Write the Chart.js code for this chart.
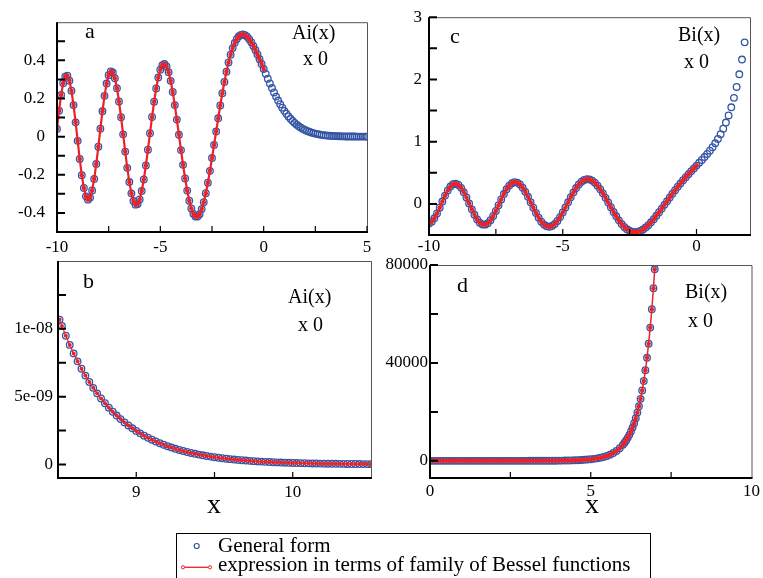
<!DOCTYPE html>
<html>
<head>
<meta charset="utf-8">
<script src="https://cdn.jsdelivr.net/npm/chart.js"></script>
<style>
  body { margin: 0; background: #fff; }
  #wrap { position: relative; width: 763px; height: 578px; overflow: hidden; font-family: "Liberation Serif", "Times New Roman", serif; }
  canvas { position: absolute; left: 0; top: 0; }
  .t { position: absolute; color: #000; white-space: nowrap; line-height: 1; font-size: 21px; }
  #legend { position: absolute; left: 176px; top: 533px; width: 475px; height: 60px; border: 1px solid #000; box-sizing: border-box; }
  svg { position: absolute; left: 0; top: 0; }
</style>
</head>
<body>
<div id="wrap">
  <canvas id="pa" width="763" height="578"></canvas>
  <canvas id="pc" width="763" height="578"></canvas>
  <canvas id="pb" width="763" height="578"></canvas>
  <canvas id="pd" width="763" height="578"></canvas>
  <div id="legend"></div>
  <svg width="763" height="578">
    <circle cx="196.7" cy="546" r="2.5" fill="none" stroke="#3555a5" stroke-width="1.2"/>
    <line x1="183" y1="567.3" x2="210" y2="567.3" stroke="#ec2227" stroke-width="1.3"/>
    <circle cx="183" cy="567.3" r="1.6" fill="#fff" stroke="#ec2227" stroke-width="1"/>
    <circle cx="210" cy="567.3" r="1.6" fill="#fff" stroke="#ec2227" stroke-width="1"/>
  </svg>
  <div class="t" style="left:218px;top:535px;">General form</div>
  <div class="t" style="left:218px;top:554px;">expression in terms of family of Bessel functions</div>
</div>
<script>
// panel a : Ai(x), -10..5
const xAi = [-10,-9.9,-9.8,-9.7,-9.6,-9.5,-9.4,-9.3,-9.2,-9.1,-9,-8.9,-8.8,-8.7,-8.6,-8.5,-8.4,-8.3,-8.2,-8.1,
  -8,-7.9,-7.8,-7.7,-7.6,-7.5,-7.4,-7.3,-7.2,-7.1,-7,-6.9,-6.8,-6.7,-6.6,-6.5,-6.4,-6.3,-6.2,-6.1,
  -6,-5.9,-5.8,-5.7,-5.6,-5.5,-5.4,-5.3,-5.2,-5.1,-5,-4.9,-4.8,-4.7,-4.6,-4.5,-4.4,-4.3,-4.2,-4.1,
  -4,-3.9,-3.8,-3.7,-3.6,-3.5,-3.4,-3.3,-3.2,-3.1,-3,-2.9,-2.8,-2.7,-2.6,-2.5,-2.4,-2.3,-2.2,-2.1,
  -2,-1.9,-1.8,-1.7,-1.6,-1.5,-1.4,-1.3,-1.2,-1.1,-1,-0.9,-0.8,-0.7,-0.6,-0.5,-0.4,-0.3,-0.2,-0.1,
  0,0.1,0.2,0.3,0.4,0.5,0.6,0.7,0.8,0.9,1,1.1,1.2,1.3,1.4,1.5,1.6,1.7,1.8,1.9,
  2,2.1,2.2,2.3,2.4,2.5,2.6,2.7,2.8,2.9,3,3.1,3.2,3.3,3.4,3.5,3.6,3.7,3.8,3.9,
  4,4.1,4.2,4.3,4.4,4.5,4.6,4.7,4.8,4.9,5];
const aiVals = [0.0402,0.1363,0.2189,0.2803,0.3147,0.3192,0.2935,0.2405,0.1653,0.0750,
  -0.0221,-0.1173,-0.2021,-0.2693,-0.3132,-0.3304,-0.3197,-0.2823,-0.2217,-0.1429,
  -0.0527,0.0417,0.1329,0.2138,0.2784,0.3219,0.3415,0.3359,0.3060,0.2541,
  0.1844,0.1017,0.0121,-0.0784,-0.1636,-0.2382,-0.2973,-0.3376,-0.3567,-0.3538,
  -0.3294,-0.2853,-0.2245,-0.1507,-0.0684,0.0178,0.1031,0.1828,0.2529,0.3099,
  0.3512,0.3750,0.3806,0.3679,0.3380,0.2926,0.2341,0.1653,0.0893,0.0096,
  -0.0705,-0.1479,-0.2196,-0.2829,-0.3359,-0.3769,-0.4048,-0.4189,-0.4193,-0.4063,
  -0.3800,-0.3438,-0.2968,-0.2414,-0.1795,-0.1123,-0.0433,0.0267,0.0961,0.1635,
  0.2274,0.2868,0.3408,0.3886,0.4299,0.4643,0.4917,0.5123,0.5262,0.5338,
  0.5356,0.5320,0.5236,0.5110,0.4948,0.4757,0.4542,0.4309,0.4063,0.3808,
  0.3550,0.3292,0.3037,0.2788,0.2547,0.2317,0.2098,0.1892,0.1698,0.1519,
  0.1353,0.1201,0.1061,0.0935,0.0820,0.0717,0.0625,0.0543,0.0470,0.0406,
  0.0349,0.0299,0.0256,0.0218,0.0185,0.0157,0.0133,0.0112,0.0094,0.0079,
  0.0066,0.0055,0.0046,0.0038,0.0031,0.0026,0.0021,0.0017,0.0014,0.0012,
  0.0010,0.0008,0.0006,0.0005,0.0004,0.0003,0.0003,0.0002,0.0002,0.0001,0.0001];

// panel c : Bi(x), -10..1.8
const xBi = [-10,-9.9,-9.8,-9.7,-9.6,-9.5,-9.4,-9.3,-9.2,-9.1,-9,-8.9,-8.8,-8.7,-8.6,-8.5,-8.4,-8.3,-8.2,-8.1,
  -8,-7.9,-7.8,-7.7,-7.6,-7.5,-7.4,-7.3,-7.2,-7.1,-7,-6.9,-6.8,-6.7,-6.6,-6.5,-6.4,-6.3,-6.2,-6.1,
  -6,-5.9,-5.8,-5.7,-5.6,-5.5,-5.4,-5.3,-5.2,-5.1,-5,-4.9,-4.8,-4.7,-4.6,-4.5,-4.4,-4.3,-4.2,-4.1,
  -4,-3.9,-3.8,-3.7,-3.6,-3.5,-3.4,-3.3,-3.2,-3.1,-3,-2.9,-2.8,-2.7,-2.6,-2.5,-2.4,-2.3,-2.2,-2.1,
  -2,-1.9,-1.8,-1.7,-1.6,-1.5,-1.4,-1.3,-1.2,-1.1,-1,-0.9,-0.8,-0.7,-0.6,-0.5,-0.4,-0.3,-0.2,-0.1,
  0,0.1,0.2,0.3,0.4,0.5,0.6,0.7,0.8,0.9,1,1.1,1.2,1.3,1.4,1.5,1.6,1.7,1.8];
const biVals = [-0.3147,-0.2874,-0.2319,-0.1538,-0.0609,0.0378,0.1330,0.2158,0.2786,0.3161,
  0.3250,0.3049,0.2578,0.1882,0.1024,0.0078,-0.0875,-0.1756,-0.2491,-0.3024,
  -0.3314,-0.3340,-0.3104,-0.2628,-0.1950,-0.1125,-0.0216,0.0709,0.1583,0.2344,
  0.2939,0.3330,0.3493,0.3419,0.3118,0.2612,0.1936,0.1138,0.0268,-0.0619,
  -0.1468,-0.2230,-0.2861,-0.3327,-0.3605,-0.3682,-0.3557,-0.3240,-0.2753,-0.2123,
  -0.1385,-0.0578,0.0258,0.1081,0.1855,0.2543,0.3118,0.3557,0.3843,0.3968,
  0.3932,0.3738,0.3399,0.2931,0.2355,0.1694,0.0973,0.0219,-0.0544,-0.1290,
  -0.1997,-0.2645,-0.3217,-0.3701,-0.4086,-0.4324,-0.4491,-0.4549,-0.4504,-0.4359,
  -0.4123,-0.3805,-0.3414,-0.2962,-0.2460,-0.1918,-0.1347,-0.0758,-0.0158,0.0443,
  0.1040,0.1626,0.2198,0.2753,0.3288,0.3804,0.4300,0.4780,0.5245,0.5700,
  0.6149,0.6599,0.7055,0.7525,0.8018,0.8543,0.9111,0.9733,1.0424,1.1199,
  1.2074,1.3071,1.4211,1.5523,1.7037,1.8789,2.0825,2.3194,2.5959];

// panel b : Ai(x), 8.51..10.5
const xAiTail = [8.51,8.525,8.55,8.575,8.6,8.625,8.65,8.675,8.7,8.725,8.75,8.775,8.8,8.825,8.85,8.875,8.9,8.925,8.95,8.975,
  9,9.025,9.05,9.075,9.1,9.125,9.15,9.175,9.2,9.225,9.25,9.275,9.3,9.325,9.35,9.375,9.4,9.425,9.45,9.475,
  9.5,9.525,9.55,9.575,9.6,9.625,9.65,9.675,9.7,9.725,9.75,9.775,9.8,9.825,9.85,9.875,9.9,9.925,9.95,9.975,
  10,10.025,10.05,10.075,10.1,10.125,10.15,10.175,10.2,10.225,10.25,10.275,10.3,10.325,10.35,10.375,10.4,10.425,10.45,10.475,10.5];
const aiTail = [1.068e-8,1.0216e-8,9.490e-9,8.814e-9,8.186e-9,7.601e-9,7.058e-9,6.552e-9,6.083e-9,5.646e-9,
  5.240e-9,4.862e-9,4.512e-9,4.186e-9,3.884e-9,3.603e-9,3.342e-9,3.099e-9,2.874e-9,2.665e-9,
  2.471e-9,2.291e-9,2.124e-9,1.968e-9,1.824e-9,1.690e-9,1.566e-9,1.451e-9,1.345e-9,1.246e-9,
  1.154e-9,1.0685e-9,9.893e-10,9.159e-10,8.480e-10,7.850e-10,7.267e-10,6.726e-10,6.225e-10,5.761e-10,
  5.331e-10,4.932e-10,4.562e-10,4.220e-10,3.903e-10,3.610e-10,3.339e-10,3.087e-10,2.854e-10,2.638e-10,
  2.438e-10,2.254e-10,2.083e-10,1.924e-10,1.778e-10,1.643e-10,1.518e-10,1.402e-10,1.295e-10,1.196e-10,
  1.105e-10,1.020e-10,9.42e-11,8.70e-11,8.03e-11,7.41e-11,6.84e-11,6.31e-11,5.82e-11,5.37e-11,
  4.96e-11,4.58e-11,4.22e-11,3.89e-11,3.59e-11,3.31e-11,3.05e-11,2.81e-11,2.59e-11,2.39e-11,2.20e-11];

// panel d : Bi(x), 0..7
const xBiGrowth = [0,0.1,0.2,0.3,0.4,0.5,0.6,0.7,0.8,0.9,1,1.1,1.2,1.3,1.4,1.5,1.6,1.7,1.8,1.9,
  2,2.1,2.2,2.3,2.4,2.5,2.6,2.7,2.8,2.9,3,3.1,3.2,3.3,3.4,3.5,3.6,3.7,3.8,3.9,
  4,4.1,4.2,4.3,4.4,4.5,4.6,4.7,4.8,4.9,5,5.1,5.2,5.3,5.4,5.5,5.6,5.7,5.8,5.9,
  6,6.05,6.1,6.15,6.2,6.25,6.3,6.35,6.4,6.45,6.5,6.55,6.6,6.65,6.7,6.75,6.8,6.85,6.9,6.95,6.99];
const biGrowth = [0.6149,0.6599,0.7055,0.7525,0.8018,0.8543,0.9111,0.9733,1.0424,1.1199,
  1.2074,1.3071,1.4211,1.5523,1.7037,1.8789,2.0825,2.3194,2.5959,2.9192,
  3.2981,3.735,4.257,4.873,5.603,6.481,7.497,8.722,10.18,11.93,
  14.04,16.54,19.57,23.23,27.66,33.05,39.57,47.53,57.26,69.17,
  83.85,101.8,123.9,151.3,185.3,227.4,279.8,345.2,426.8,528.9,
  657.8,819.2,1022.6,1279.4,1604.4,2016.5,2540.0,3206.7,4057.0,5144.4,
  6536.1,7373.9,8323.3,9399.4,10620.5,12006.1,13581.1,15367.7,17399.7,19711.4,
  22341.4,25334.0,28742.7,32625.1,37051,42099,47859,54436,61944,70523,78250];

// tick positions and labels
const xTicksA = [-10, -5, 0, 5], xTextA = ['-10', '-5', '0', '5'];
const yTicksA = [-0.4, -0.2, 0, 0.2, 0.4], yTextA = ['-0.4', '-0.2', '0', '0.2', '0.4'];
const xTicksC = [-10, -5, 0], xTextC = ['-10', '-5', '0'];
const yTicksC = [0, 1, 2, 3], yTextC = ['0', '1', '2', '3'];
const xTicksB = [9, 10], xTextB = ['9', '10'];
const yTicksB = [0, 5e-9, 1e-8], yTextB = ['0', '5e-09', '1e-08'];
const xTicksD = [0, 5, 10], xTextD = ['0', '5', '10'];
const yTicksD = [0, 40000, 80000], yTextD = ['0', '40000', '80000'];

const BLUE = '#3555a5';
const RED = '#ec2227';
const SERIF = '"Liberation Serif", "Times New Roman", serif';
Chart.defaults.font.family = SERIF;
Chart.defaults.color = '#000';

// axes frame with inward ticks and panel notes
const frame = {
  id: 'frame',
  afterDatasetsDraw(chart, args, o) {
    const { ctx, chartArea: c, scales: { x, y } } = chart;
    ctx.save();
    ctx.strokeStyle = '#555';
    ctx.lineWidth = 1;
    ctx.beginPath();
    ctx.moveTo(c.left, c.top + 0.5);
    ctx.lineTo(c.right + 0.5, c.top + 0.5);
    ctx.lineTo(c.right + 0.5, c.bottom);
    ctx.stroke();

    ctx.strokeStyle = '#000';
    ctx.lineWidth = 2;
    ctx.beginPath();
    o.yMarks.forEach(v => {
      const p = y.getPixelForValue(v);
      ctx.moveTo(c.left, p);
      ctx.lineTo(c.left + 8, p);
    });
    ctx.stroke();
    ctx.lineWidth = 1.2;
    ctx.beginPath();
    o.xMarks.forEach(v => {
      const p = x.getPixelForValue(v);
      ctx.moveTo(p, c.bottom);
      ctx.lineTo(p, c.bottom - 6);
    });
    ctx.stroke();

    ctx.lineWidth = 2;
    ctx.beginPath();
    ctx.moveTo(c.left, c.top);
    ctx.lineTo(c.left, c.bottom);
    ctx.lineTo(c.right + 1, c.bottom);
    ctx.stroke();

    ctx.fillStyle = '#000';
    ctx.textBaseline = 'alphabetic';
    ctx.textAlign = 'left';
    o.notes.forEach(n => {
      ctx.font = n[3] + 'px ' + SERIF;
      ctx.fillText(n[0], n[1], n[2]);
    });
    ctx.restore();
  }
};

function pts(xs, ys, maxX) {
  const out = [];
  xs.forEach((x, i) => {
    if (maxX === undefined || x <= maxX) out.push({ x: x, y: ys[i] });
  });
  return out;
}

function makePanel(id, p) {
  const [l, t, r, b] = p.box;
  new Chart(document.getElementById(id), {
    type: 'scatter',
    data: {
      datasets: [
        {
          data: pts(p.xs, p.ys), showLine: false, order: 2,
          pointRadius: 3.3, pointBorderWidth: 1.3,
          pointBorderColor: BLUE, pointBackgroundColor: 'rgba(0,0,0,0)'
        },
        {
          data: pts(p.xs, p.ys, p.redMax), showLine: true, order: 1,
          borderColor: RED, borderWidth: p.redW, tension: 0,
          pointRadius: p.redR, pointBorderWidth: 0, pointBackgroundColor: RED
        }
      ]
    },
    options: {
      responsive: false,
      animation: false,
      devicePixelRatio: 1,
      events: [],
      layout: { padding: { left: 0, top: t, right: 763 - r, bottom: 578 - b - 26 } },
      plugins: {
        legend: { display: false },
        tooltip: { enabled: false },
        frame: { xMarks: p.xMarks, yMarks: p.yMarks, notes: p.notes }
      },
      scales: {
        x: {
          type: 'linear', min: p.xr[0], max: p.xr[1],
          grid: { display: false, drawTicks: false }, border: { display: false },
          afterFit: s => { s.height = 26; },
          afterBuildTicks: s => { s.ticks = p.xTicks.map(v => ({ value: v })); },
          ticks: {
            autoSkip: false, maxRotation: 0, padding: p.xPad, color: '#000',
            font: { family: SERIF, size: 17 },
            callback: (v, i) => p.xText[i]
          }
        },
        y: {
          type: 'linear', min: p.yr[0], max: p.yr[1],
          grid: { display: false, drawTicks: false }, border: { display: false },
          afterFit: s => { s.width = l; },
          afterBuildTicks: s => { s.ticks = p.yTicks.map(v => ({ value: v })); },
          ticks: {
            autoSkip: false, padding: p.yPad, color: '#000',
            font: { family: SERIF, size: 17 },
            callback: (v, i) => p.yText[i]
          }
        }
      }
    },
    plugins: [frame]
  });
}

makePanel('pa', {
  box: [57, 12, 367, 232], xr: [-10, 5], yr: [-0.5, 0.6],
  xs: xAi, ys: aiVals, redMax: 0, redW: 2.2, redR: 2.3,
  xTicks: xTicksA, xText: xTextA, yTicks: yTicksA, yText: yTextA, xPad: 5, yPad: 12,
  xMarks: [-7.5, -5, -2.5, 0, 2.5, 5],
  yMarks: [-0.4, -0.3, -0.2, -0.1, 0, 0.1, 0.2, 0.3, 0.4, 0.5],
  notes: [['a', 85, 38, 22], ['Ai(x)', 292, 39, 20], ['x 0', 303, 65, 20]]
});

makePanel('pc', {
  box: [429, 15, 750, 235], xr: [-10, 2], yr: [-0.5, 3],
  xs: xBi, ys: biVals, redMax: 0, redW: 2.2, redR: 2.3,
  xTicks: xTicksC, xText: xTextC, yTicks: yTicksC, yText: yTextC, xPad: 1, yPad: 7,
  xMarks: [-7.5, -5, -2.5, 0],
  yMarks: [0, 0.5, 1, 1.5, 2, 2.5, 3],
  notes: [['c', 450, 43, 22], ['Bi(x)', 678, 41, 20], ['x 0', 684, 68, 20]]
});

makePanel('pb', {
  box: [58, 261, 371, 478], xr: [8.5, 10.5], yr: [-1e-9, 1.5e-8],
  xs: xAiTail, ys: aiTail, redW: 1.2, redR: 2,
  xTicks: xTicksB, xText: xTextB, yTicks: yTicksB, yText: yTextB, xPad: 4, yPad: 5,
  xMarks: [9, 9.5, 10],
  yMarks: [0, 2.5e-9, 5e-9, 7.5e-9, 1e-8, 1.25e-8],
  notes: [['b', 83, 288, 22], ['Ai(x)', 288, 303, 20], ['x 0', 298, 331, 20], ['x', 207, 513, 28]]
});

makePanel('pd', {
  box: [430, 265, 752, 478], xr: [0, 10], yr: [-7000, 80000],
  xs: xBiGrowth, ys: biGrowth, redW: 1.5, redR: 2.3,
  xTicks: xTicksD, xText: xTextD, yTicks: yTicksD, yText: yTextD, xPad: 3, yPad: 2,
  xMarks: [2.5, 5, 7.5],
  yMarks: [0, 20000, 40000, 60000, 80000],
  notes: [['d', 457, 292, 22], ['Bi(x)', 685, 298, 20], ['x 0', 688, 327, 20], ['x', 585, 513, 28]]
});
</script>
</body>
</html>
